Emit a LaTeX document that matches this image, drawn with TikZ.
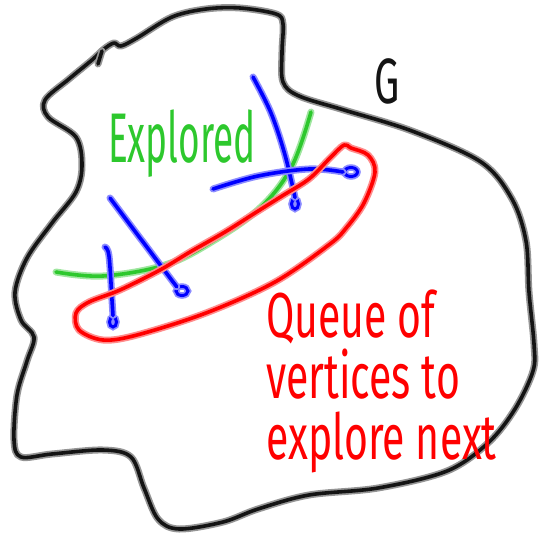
\documentclass[tikz,border=0pt]{standalone}
\usepackage{fontspec}
\setmainfont{Fira Sans}
\usepackage{tikz}
\usetikzlibrary{shapes.geometric, positioning, calc}
\definecolor{InkBlack}{RGB}{20, 20, 20}
\definecolor{InkRed}{RGB}{255, 0, 0}
\definecolor{InkGreen}{RGB}{45, 200, 45}
\definecolor{InkBlue}{RGB}{0, 0, 255}

\tikzset{
  ink/.style={draw=#1, line width=3.6pt, line cap=round, line join=round,
    preaction={draw=#1!45, line width=7pt, line cap=round, line join=round}},
  vertexloop/.style={ellipse, draw=InkBlue, line width=3pt, inner sep=0pt,
    preaction={draw=InkBlue!45, line width=6.5pt}},
  scrawl/.style={anchor=base west, align=left, inner sep=0pt}
}

\begin{document}
\begin{tikzpicture}[x=1pt, y=-1pt]
    \useasboundingbox (0,0) rectangle (539,548);

    % the graph G
    \draw[ink=InkBlack] plot[smooth cycle, tension=0.55] coordinates {
      (121,46) (137,38) (172,17) (206,9) (240,8) (276,14) (283,24) (282,52)
      (283,82) (299,96) (344,110) (412,131) (481,162) (512,199) (526,241)
      (529,292) (534,344) (533,371) (515,409) (488,443) (447,471) (378,488)
      (309,495) (258,509) (223,522) (179,529) (158,519) (144,488) (131,457)
      (103,450) (52,454) (21,457) (14,440) (17,395) (27,361) (34,337) (21,320)
      (15,292) (27,258) (52,223) (76,192) (82,165) (76,137) (48,117) (45,100)
      (69,79) (92,60) (104,49) (114,43)};
    \coordinate (hooktop) at (102,51);
    \coordinate (hookend) at (98,64);
    \draw[ink=InkBlack] (hooktop) -- (hookend);
    \node[scrawl, text=InkBlack, font=\fontsize{40}{40}\selectfont] (glabel) at (374,104) {\scalebox{1}[1.6]{G}};

    % explored region
    \draw[ink=InkGreen] plot[smooth, tension=0.6] coordinates {
      (56,272) (103,276) (165,265) (213,241) (261,207) (292,166) (311,112)};
    \node[scrawl, text=InkGreen, font=\fontsize{37}{37}\selectfont] (explored) at (108,162) {\scalebox{1}[1.9]{Explored}};

    % vertices on the frontier
    \node[vertexloop, minimum width=7pt, minimum height=10pt] (v1) at (295,204) {};
    \node[vertexloop, minimum width=13pt, minimum height=9pt] (v2) at (351,172) {};
    \node[vertexloop, minimum width=12pt, minimum height=9pt] (v3) at (182,291) {};
    \node[vertexloop, minimum width=7pt, minimum height=10pt] (v4) at (113,322) {};
    \coordinate (u1) at (253,77);
    \coordinate (u2) at (213,189);
    \coordinate (u3) at (110,198);
    \coordinate (u4) at (105,247);
    \draw[ink=InkBlue] plot[smooth, tension=0.6] coordinates {(u1) (271,113) (285,155) (v1.north)};
    \draw[ink=InkBlue] plot[smooth, tension=0.6] coordinates {(u2) (258,176) (309,169) (v2.west)};
    \draw[ink=InkBlue] (u3) -- (v3.north west);
    \draw[ink=InkBlue] plot[smooth, tension=0.6] coordinates {(u4) (109,256) (112,300) (v4.north)};

    % the queue
    \draw[ink=InkRed] plot[smooth cycle, tension=0.55] coordinates {
      (344,145) (330,158) (309,179) (282,196) (255,213) (225,232) (190,252)
      (160,270) (120,290) (89,302) (76,313) (79,330) (103,340)
      (137,335) (206,313) (275,282) (330,244) (347,227) (364,203) (375,172)
      (368,155) (351,148)};
    \node[scrawl, text=InkRed, font=\fontsize{41}{61}\selectfont] (queue) at (266,459)
      {\scalebox{1}[1.55]{Queue of}\\\scalebox{1}[1.55]{vertices to}\\\scalebox{1}[1.55]{explore next}};
  \end{tikzpicture}
\end{document}
